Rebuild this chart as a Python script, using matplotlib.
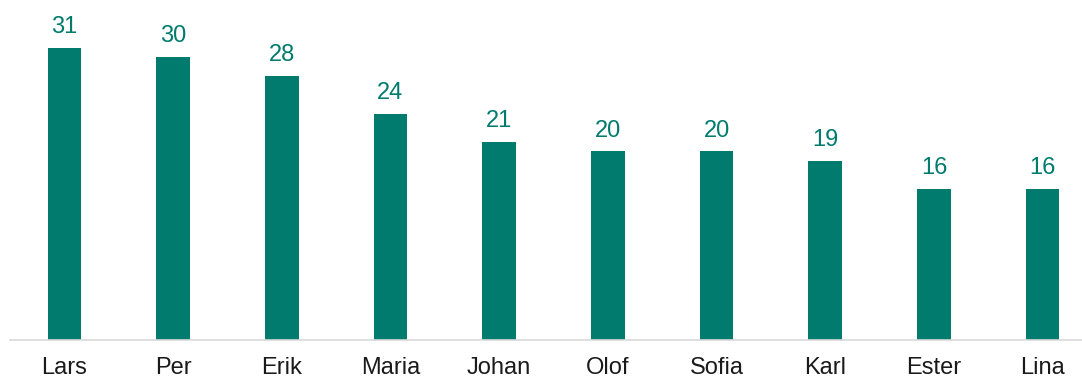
import matplotlib.pyplot as plt

names = ['Lars', 'Per', 'Erik', 'Maria', 'Johan', 'Olof', 'Sofia', 'Karl', 'Ester', 'Lina']
counts = [31, 30, 28, 24, 21, 20, 20, 19, 16, 16]

teal = '#007B6E'

plt.rcParams['font.family'] = ['Liberation Sans', 'DejaVu Sans']

fig = plt.figure(figsize=(10.82, 3.78), dpi=100)
# axes run a bit past the right edge so the last bar sits like the others
ax = fig.add_axes([10 / 1082, 38 / 378, 1087 / 1082, 330 / 378])

x = range(len(names))
bars = ax.bar(x, counts, width=0.31, color=teal)

for rect, v in zip(bars, counts):
    ax.annotate(str(v), (rect.get_x() + rect.get_width() / 2, v),
                xytext=(0, 7), textcoords='offset points',
                ha='center', va='bottom', fontsize=17, color=teal)

ax.set_xlim(-0.5, 9.5)
ax.set_ylim(0, 35)
ax.set_xticks(list(x))
ax.set_xticklabels(names, fontsize=17, color='#1a1a1a')
ax.tick_params(axis='x', length=0, pad=12)
ax.set_yticks([])

for side in ['top', 'right', 'left']:
    ax.spines[side].set_visible(False)
ax.spines['bottom'].set_color('#D9D9D9')
ax.spines['bottom'].set_linewidth(1.2)

fig.savefig('out.png', dpi=100)
